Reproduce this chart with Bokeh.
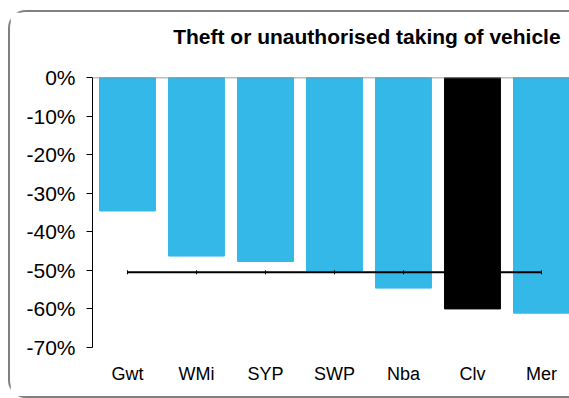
import math
from bokeh.plotting import figure
from bokeh.models import (Range1d, FixedTicker, PrintfTickFormatter, Span,
                          ColumnDataSource, LinearAxis)
from bokeh.embed import file_html
from bokeh.resources import INLINE

# ---- data ----
chart_title = "Theft or unauthorised taking of vehicle"
forces = ["Gwt", "WMi", "SYP", "SWP", "Nba", "Clv", "Mer"]
change_pct = [-34.6, -46.3, -47.7, -50.2, -54.6, -60.0, -61.1]
highlight_force = "Clv"
average_pct = -50.5
y_ticks = [0, -10, -20, -30, -40, -50, -60, -70]

BLUE = "#33B8E8"
BLACK = "#000000"
FONT = "Liberation Sans"

n = len(forces)
pos = list(range(n))
colors = [BLACK if f == highlight_force else BLUE for f in forces]
src = ColumnDataSource(dict(x=pos, value=change_pct, color=colors))

X0, X1 = -0.507, 6.406
p = figure(width=561, height=388, output_backend="svg", toolbar_location=None,
           x_range=Range1d(X0, X1), y_range=Range1d(-70, 0),
           min_border_left=82, min_border_top=65, min_border_bottom=53, min_border_right=2,
           margin=(10, 0, 0, 8))

# rounded chart-area border (open to the right, as the chart is cropped there)
p.styles = {"border-top": "2px solid #808080", "border-left": "2px solid #808080",
            "border-bottom": "2px solid #808080",
            "border-radius": "18px 0 0 18px"}

p.vbar(x="x", top=0, bottom="value", width=0.81, color="color", source=src)

# average line
p.line(x=pos, y=[average_pct] * n, line_color=BLACK, line_width=2)
p.scatter(x=pos, y=[average_pct] * n, marker="dash", angle=math.pi / 2, size=4,
          line_color=BLACK, line_width=1)

# zero line (category axis crossing)
p.add_layout(Span(location=0, dimension="width", line_color="#808080", line_width=1.5))

p.grid.visible = False
p.outline_line_color = None

# y axis
ya = p.yaxis[0]
ya.ticker = FixedTicker(ticks=y_ticks)
ya.formatter = PrintfTickFormatter(format="%d%%")
ya.axis_line_color = BLACK
ya.major_tick_line_color = BLACK
ya.major_tick_in = 0
ya.major_tick_out = 6
ya.minor_tick_line_color = None
ya.major_label_standoff = 11
ya.major_label_text_font = FONT
ya.major_label_text_font_size = "21px"
ya.major_label_text_color = BLACK

# x axis
xa = p.xaxis[0]
xa.ticker = FixedTicker(ticks=pos)
xa.major_label_overrides = {i: f for i, f in zip(pos, forces)}
xa.axis_line_color = None
xa.major_tick_line_color = None
xa.minor_tick_line_color = None
xa.major_tick_in = 0
xa.major_tick_out = 0
xa.major_label_standoff = 16
xa.major_label_text_font = FONT
xa.major_label_text_font_size = "18px"
xa.major_label_text_color = BLACK

# chart title, drawn as the single label of an axis above the frame
title_center_x = 3.47
ta = LinearAxis(ticker=FixedTicker(ticks=[title_center_x]),
                major_label_overrides={title_center_x: chart_title},
                axis_line_color=None, major_tick_line_color=None,
                minor_tick_line_color=None, major_tick_in=0, major_tick_out=0,
                major_label_standoff=30,
                major_label_text_font=FONT, major_label_text_font_size="21px",
                major_label_text_font_style="bold", major_label_text_color=BLACK)
p.add_layout(ta, "above")

open("out.html", "w").write(file_html(p, INLINE))
